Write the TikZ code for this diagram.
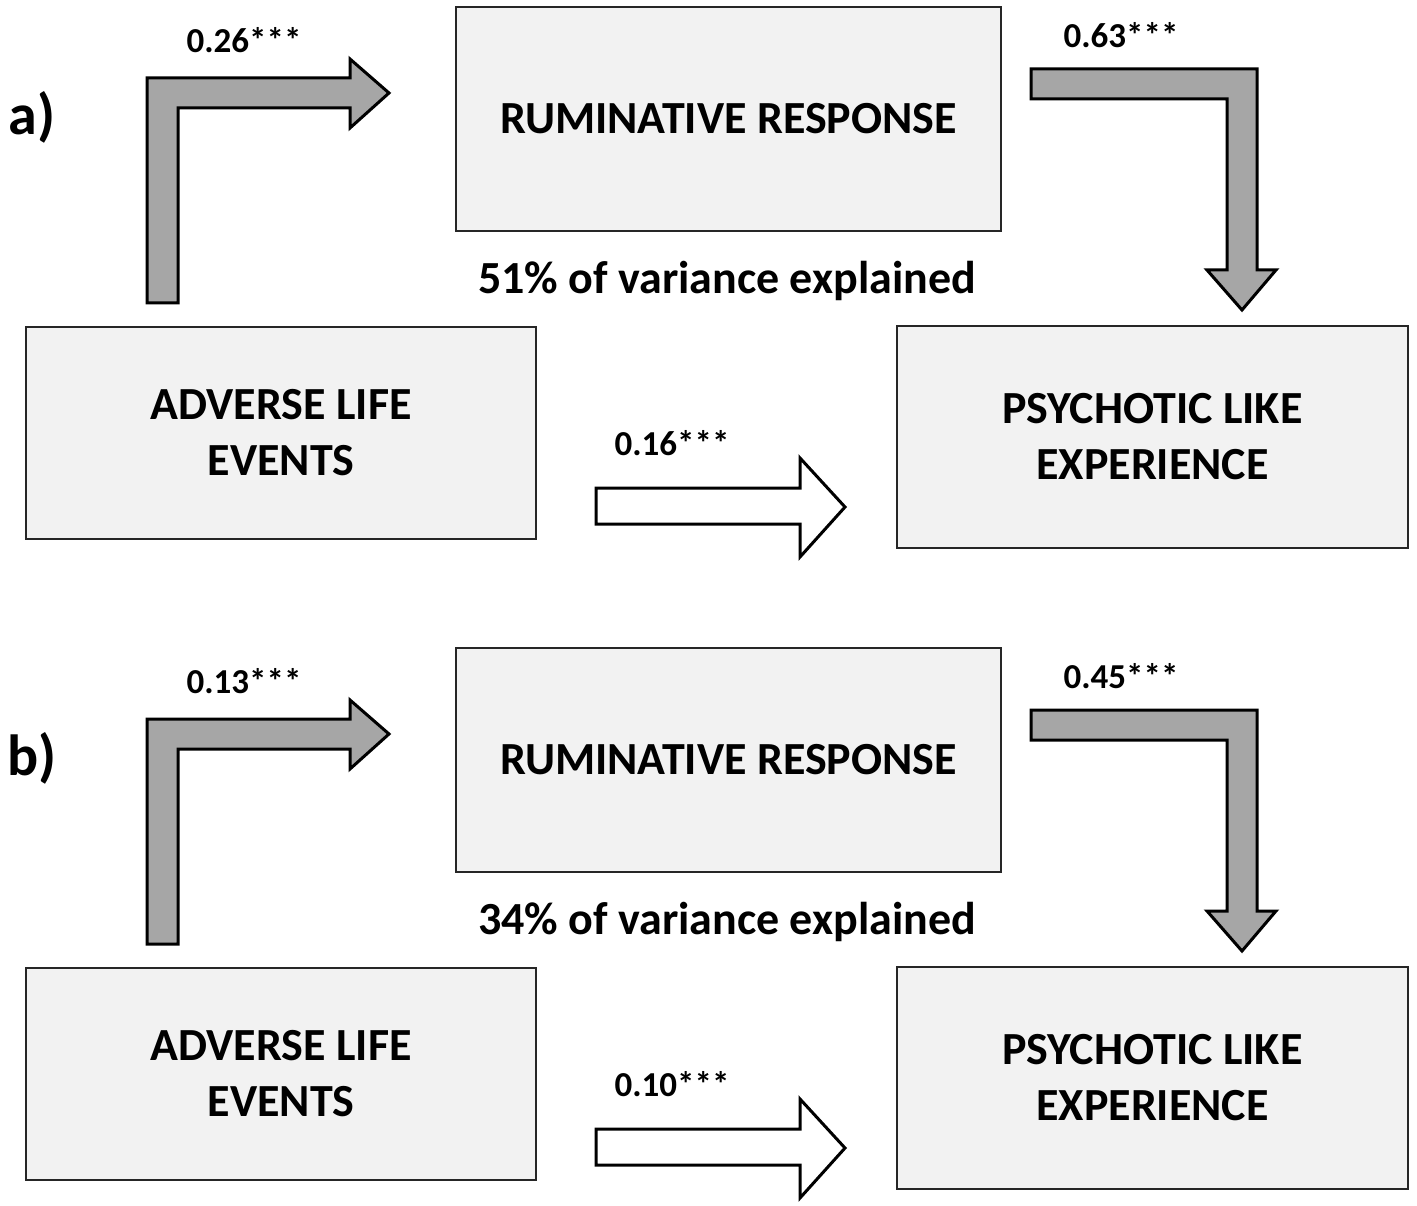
\documentclass[tikz,border=0pt]{standalone}
\usepackage{fontspec}
\setmainfont{Carlito}
\definecolor{boxfill}{HTML}{F2F2F2}
\definecolor{arrowfill}{HTML}{A6A6A6}
\tikzset{
  varbox/.style={draw=black!85, line width=2pt, fill=boxfill, align=center,
    inner sep=0pt, font=\bfseries\fontsize{46}{56}\selectfont},
  blockarrow/.style={draw=black, line width=3pt, line join=miter, fill=arrowfill},
  whitearrow/.style={draw=black, line width=3pt, line join=miter, fill=white},
  coef/.style={font=\bfseries\fontsize{35}{38}\selectfont, inner sep=0pt},
  panel/.style={font=\bfseries\fontsize{58}{62}\selectfont, inner sep=0pt},
  varnote/.style={font=\bfseries\fontsize{46}{50}\selectfont, inner sep=0pt}
}
\begin{document}
\begin{tikzpicture}[x=1pt,y=-1pt]
\useasboundingbox (0,0) rectangle (1417,1206);

% ---------- panel a ----------
\node[panel] (pa) at (32,117) {a)};
\node[varbox, minimum width=545pt, minimum height=224pt] (rua) at (728.5,119) {RUMINATIVE RESPONSE};
\node[varnote] (va) at (727,281) {51\% of variance explained};
\node[varbox, minimum width=510pt, minimum height=212pt] (ada) at (281,433) {ADVERSE LIFE\\EVENTS};
\node[varbox, minimum width=511pt, minimum height=222pt] (psa) at (1152.5,437) {PSYCHOTIC LIKE\\EXPERIENCE};
\draw[blockarrow] (147,303) -- (147,78) -- (350,78) -- (350,59) -- (389,93) -- (350,128) -- (350,108) -- (178,108) -- (178,303) -- cycle;
\draw[blockarrow] (1031,69) -- (1257,69) -- (1257,270) -- (1276,270) -- (1242,310) -- (1207,270) -- (1227,270) -- (1227,99) -- (1031,99) -- cycle;
\draw[whitearrow] (596,488) -- (800,488) -- (800,458) -- (845,507) -- (800,557) -- (800,524) -- (596,524) -- cycle;
\node[coef] (ca1) at (244,40) {0.26***};
\node[coef] (ca2) at (1121,35) {0.63***};
\node[coef] (ca3) at (672,443) {0.16***};

% ---------- panel b ----------
\begin{scope}[yshift=-641pt]
\node[panel] (pb) at (32,117) {b)};
\node[varbox, minimum width=545pt, minimum height=224pt] (rub) at (728.5,119) {RUMINATIVE RESPONSE};
\node[varnote] (vb) at (727,281) {34\% of variance explained};
\node[varbox, minimum width=510pt, minimum height=212pt] (adb) at (281,433) {ADVERSE LIFE\\EVENTS};
\node[varbox, minimum width=511pt, minimum height=222pt] (psb) at (1152.5,437) {PSYCHOTIC LIKE\\EXPERIENCE};
\draw[blockarrow] (147,303) -- (147,78) -- (350,78) -- (350,59) -- (389,93) -- (350,128) -- (350,108) -- (178,108) -- (178,303) -- cycle;
\draw[blockarrow] (1031,69) -- (1257,69) -- (1257,270) -- (1276,270) -- (1242,310) -- (1207,270) -- (1227,270) -- (1227,99) -- (1031,99) -- cycle;
\draw[whitearrow] (596,488) -- (800,488) -- (800,458) -- (845,507) -- (800,557) -- (800,524) -- (596,524) -- cycle;
\node[coef] (cb1) at (244,40) {0.13***};
\node[coef] (cb2) at (1121,35) {0.45***};
\node[coef] (cb3) at (672,443) {0.10***};
\end{scope}
\end{tikzpicture}
\end{document}
